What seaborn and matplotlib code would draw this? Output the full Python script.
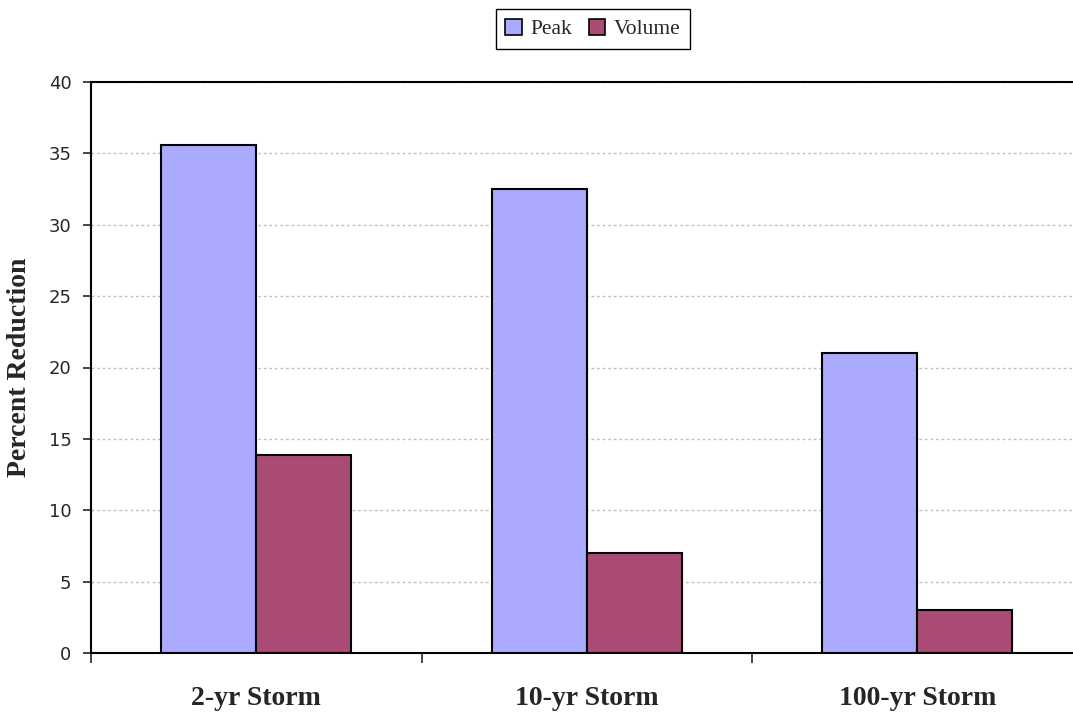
import matplotlib
matplotlib.use('Agg')
import matplotlib.pyplot as plt
import seaborn as sns
import pandas as pd
from matplotlib.patches import Patch

sns.set_style('white')

# Data
storms = ['2-yr Storm', '10-yr Storm', '100-yr Storm']
peak = [35.6, 32.5, 21.0]
volume = [13.9, 7.0, 3.0]
series = ['Peak', 'Volume']
colors = {'Peak': '#AAAAFF', 'Volume': '#AA4B76'}

df = pd.DataFrame({
    'Storm': storms * 2,
    'Series': ['Peak'] * 3 + ['Volume'] * 3,
    'Reduction': peak + volume,
})

W, H = 1073, 715
fig = plt.figure(figsize=(W / 100, H / 100), dpi=100)
ax = fig.add_axes([91 / W, (H - 653) / H, (330.5 * 3) / W, 571 / H])

sns.barplot(data=df, x='Storm', y='Reduction', hue='Series', order=storms,
            hue_order=series, palette=colors, width=0.575, edgecolor='black',
            linewidth=1.5, saturation=1, legend=False, ax=ax, zorder=3)

ax.set_xlim(-0.5, 2.5)
ax.set_ylim(0, 40)
ax.set_yticks(range(0, 41, 5))
ax.yaxis.grid(True, color='#c0c0c0', linestyle=(0, (2, 2)), linewidth=1)
ax.set_axisbelow(True)

for s in ['left', 'top', 'bottom']:
    ax.spines[s].set_color('black')
    ax.spines[s].set_linewidth(1.5)
ax.spines['right'].set_visible(False)

# category boundary ticks on x, labels centred under groups
ax.set_xticks([-0.5, 0.5, 1.5, 2.5], minor=True)
ax.tick_params(axis='x', which='minor', length=7, width=1.2, direction='out', bottom=True)
ax.tick_params(axis='x', which='major', length=0, pad=24)
ax.tick_params(axis='y', length=6, width=1.2, direction='out', left=True, pad=8)
ax.set_xticklabels(storms, fontfamily='Liberation Serif', fontweight='bold', fontsize=20)
for lbl in ax.get_yticklabels():
    lbl.set_fontfamily('DejaVu Sans')
    lbl.set_fontsize(13)

ax.set_xlabel('')
ax.set_ylabel('Percent Reduction', fontfamily='Liberation Serif', fontweight='bold',
              fontsize=20, labelpad=12)

handles = [Patch(facecolor=colors[s], edgecolor='black', linewidth=1.2) for s in series]
fig.legend(handles, series, loc='center', bbox_to_anchor=(593 / W, 1 - 29 / H),
           ncol=2, frameon=True, fancybox=False, edgecolor='black', framealpha=1,
           prop={'family': 'Liberation Serif', 'size': 15.5},
           handlelength=0.75, handleheight=0.75, handletextpad=0.4, columnspacing=0.8,
           borderpad=0.45)

fig.savefig('out.png', dpi=100)
plt.close(fig)
